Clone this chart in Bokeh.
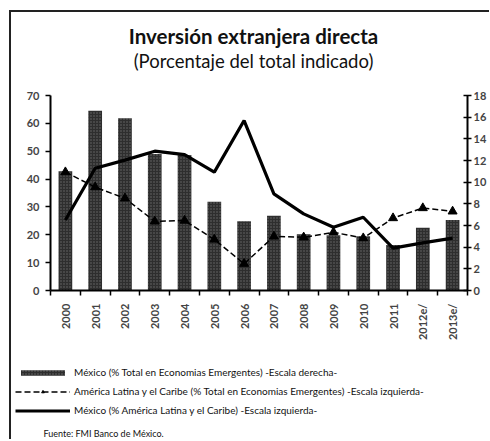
from math import pi
from bokeh.plotting import figure
from bokeh.layouts import column
from bokeh.models import (Range1d, LinearAxis, FixedTicker, Legend, LegendItem, Label)
from bokeh.embed import file_html
from bokeh.resources import INLINE

years = ["2000", "2001", "2002", "2003", "2004", "2005", "2006", "2007",
         "2008", "2009", "2010", "2011", "2012e/", "2013e/"]
# México (% Total en Economías Emergentes) - right scale
mexico_emergentes = [11.0, 16.6, 15.9, 12.6, 12.5, 8.2, 6.4, 6.9, 5.2, 5.1, 5.0, 4.2, 5.8, 6.5]
# América Latina y el Caribe (% Total en Economías Emergentes) - left scale
alc_emergentes = [42.5, 37.1, 33.1, 24.8, 25.1, 18.3, 9.6, 19.4, 19.1, 20.9, 18.8, 26.0, 29.6, 28.4]
# México (% América Latina y el Caribe) - left scale
mexico_alc = [25.3, 43.9, 46.8, 50.0, 48.8, 42.5, 61.0, 34.7, 27.5, 22.7, 26.3, 15.2, 17.1, 18.8]
left_ticks = [0, 10, 20, 30, 40, 50, 60, 70]
right_ticks = [0, 2, 4, 6, 8, 10, 12, 14, 16, 18]

title_text = "Inversión extranjera directa"
subtitle_text = "(Porcentaje del total indicado)"
source_text = "Fuente: FMI  Banco de México."
labels = ["México (% Total en Economias Emergentes) -Escala derecha-",
          "América Latina y el Caribe (% Total en Economias Emergentes) -Escala izquierda-",
          "México (% América Latina y el Caribe) -Escala izquierda-"]

FONT = "Lato"
BAR_STYLE = dict(fill_color="#2e2e2e", line_color=None, hatch_pattern="dot",
                 hatch_color="white", hatch_scale=3, hatch_alpha=0.3)
DASH_STYLE = dict(line_color="black", line_width=1.5, line_dash="6 3")
TRI_STYLE = dict(marker="triangle", size=9, color="black")
SOLID_STYLE = dict(line_color="black", line_width=3.2)
idx = list(range(len(years)))


def blank_panel(height, xr, yr):
    f = figure(width=478, height=height, output_backend="svg", toolbar_location=None,
               x_range=xr, y_range=yr, x_axis_type=None, y_axis_type=None,
               min_border_left=0, min_border_right=0, min_border_top=0, min_border_bottom=0)
    f.frame_align = False
    f.outline_line_color = None
    f.xgrid.visible = False
    f.ygrid.visible = False
    return f


# ---- header with title and subtitle
t = blank_panel(75, Range1d(0, 1), Range1d(0, 1))
t.add_layout(Label(x=242, y=52, x_units="screen", y_units="screen", text=title_text,
                   text_align="center", text_baseline="middle", text_font=FONT,
                   text_font_size="20.5px", text_font_style="bold", text_color="#111"))
t.add_layout(Label(x=242, y=27, x_units="screen", y_units="screen", text=subtitle_text,
                   text_align="center", text_baseline="middle", text_font=FONT,
                   text_font_size="18.5px", text_color="#111"))

# ---- main chart
p = figure(width=478, height=258, output_backend="svg", toolbar_location=None,
           x_range=Range1d(-0.5, len(years) - 0.5), y_range=Range1d(0, 70),
           min_border_left=39, min_border_right=18, min_border_top=8, min_border_bottom=55)
p.frame_align = False
p.extra_y_ranges = {"right": Range1d(0, 18)}
p.outline_line_color = None
p.xgrid.visible = False
p.ygrid.visible = False

xa = p.xaxis[0]
xa.ticker = FixedTicker(ticks=idx, minor_ticks=[i - 0.5 for i in range(len(years) + 1)])
xa.major_label_overrides = {i: y for i, y in enumerate(years)}
xa.major_tick_line_color = None
xa.major_tick_out = 0
xa.minor_tick_out = 5
xa.minor_tick_in = 0
xa.minor_tick_line_width = 1.5
xa.major_label_orientation = pi / 2
xa.major_label_standoff = 8
xa.axis_line_width = 2
xa.major_label_text_font = FONT
xa.major_label_text_font_style = "bold"
xa.major_label_text_font_size = "11px"

ya = p.yaxis[0]
ya.ticker = FixedTicker(ticks=left_ticks)
ya.major_tick_out = 5
ya.major_tick_in = 0
ya.major_tick_line_width = 1.5
ya.minor_tick_line_color = None
ya.axis_line_width = 2
ya.major_label_text_font = FONT
ya.major_label_text_font_style = "bold"
ya.major_label_text_font_size = "11px"
ya.major_label_standoff = 6

ra = LinearAxis(y_range_name="right", ticker=FixedTicker(ticks=right_ticks))
ra.major_tick_out = 4
ra.major_tick_in = 4
ra.major_tick_line_width = 1.5
ra.minor_tick_line_color = None
ra.axis_line_width = 2
ra.major_label_text_font = FONT
ra.major_label_text_font_style = "bold"
ra.major_label_text_font_size = "11px"
ra.major_label_standoff = 2
p.add_layout(ra, "right")

p.vbar(x=idx, top=mexico_emergentes, width=0.46, y_range_name="right", **BAR_STYLE)
p.line(idx, alc_emergentes, **DASH_STYLE)
p.scatter(idx, alc_emergentes, **TRI_STYLE)
p.line(idx, mexico_alc, **SOLID_STYLE)

# ---- legend + source (series drawn again only to feed the legend keys;
# this panel's ranges keep them out of view)
q = blank_panel(94, Range1d(1000, 1001), Range1d(1000, 1001))
lb = q.vbar(x=idx, top=mexico_emergentes, width=0.46, **BAR_STYLE)
ld = q.line(idx, alc_emergentes, **DASH_STYLE)
lt = q.scatter(idx, alc_emergentes, **TRI_STYLE)
ls = q.line(idx, mexico_alc, **SOLID_STYLE)
legend = Legend(items=[LegendItem(label=labels[0], renderers=[lb]),
                       LegendItem(label=labels[1], renderers=[ld, lt]),
                       LegendItem(label=labels[2], renderers=[ls])],
                location=(4, 23), orientation="vertical",
                glyph_width=55, glyph_height=7, label_height=12, spacing=7,
                padding=0, margin=0, label_standoff=4,
                label_text_font=FONT, label_text_font_size="10px", label_text_color="#111",
                border_line_color=None, background_fill_alpha=0)
q.add_layout(legend)
q.add_layout(Label(x=32, y=6, x_units="screen", y_units="screen", text=source_text,
                   text_align="left", text_baseline="middle", text_font=FONT,
                   text_font_size="9px", text_color="#111"))

layout = column(t, p, q, spacing=0)
layout.styles = {"border-left": "2px solid #222", "border-top": "2px solid #222",
                 "margin-left": "9px", "margin-top": "10px"}

open("out.html", "w").write(file_html(layout, INLINE))
